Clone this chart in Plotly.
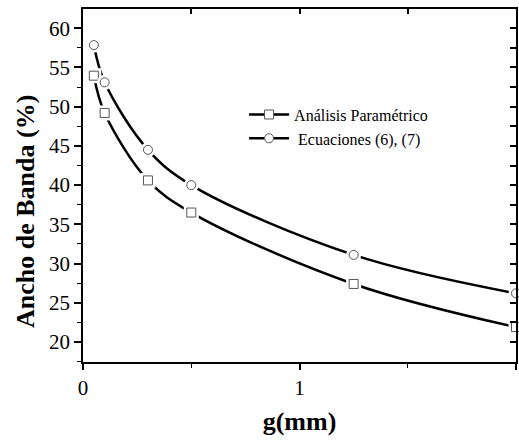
import plotly.graph_objects as go

g_mm = [0.05, 0.1, 0.3, 0.5, 1.25, 2.0]
analisis = [53.95, 49.2, 40.6, 36.5, 27.4, 21.9]
ecuaciones = [57.85, 53.1, 44.5, 40.0, 31.1, 26.2]
names = ["Análisis Paramétrico", " Ecuaciones (6), (7)"]
symbols = ["square", "circle"]

FONT = "Liberation Serif, Times New Roman, serif"
fig = go.Figure()

for ys, nm, sym in zip([analisis, ecuaciones], names, symbols):
    fig.add_trace(go.Scatter(
        x=g_mm, y=ys, name=nm, mode="lines+markers", cliponaxis=False,
        line=dict(color="black", width=2.5, shape="spline", smoothing=1.0),
        marker=dict(symbol=sym, size=9, color="white", line=dict(color="#555555", width=1)),
    ))
for ys, sym in zip([analisis, ecuaciones], symbols):
    fig.add_trace(go.Scatter(
        x=g_mm, y=ys, mode="markers", showlegend=False, hoverinfo="skip", cliponaxis=False,
        xaxis="x2", yaxis="y2",
        marker=dict(symbol=sym, size=15, color="white", line=dict(width=0)),
    ))
    fig.add_trace(go.Scatter(
        x=g_mm, y=ys, mode="markers", showlegend=False, hoverinfo="skip", cliponaxis=False,
        xaxis="x2", yaxis="y2",
        marker=dict(symbol=sym, size=9, color="white", line=dict(color="#555555", width=1)),
    ))

axis_common = dict(showgrid=False, zeroline=False, showline=True, linecolor="black",
                   linewidth=1.5, automargin=False)
YR = [17.45, 62.45]

fig.update_layout(
    width=519, height=440,
    margin=dict(l=83, r=3, t=9, b=78),
    paper_bgcolor="white", plot_bgcolor="white",
    font=dict(family=FONT, color="black", size=18),
    xaxis=dict(**axis_common, mirror=True, range=[0, 2], tickvals=[0, 1, 2], ticktext=["0", "1", "2"],
               ticks="outside", ticklen=6, tickwidth=1.5, tickcolor="black",
               minor=dict(tickvals=[0.5, 1.5], ticks="outside", ticklen=4, tickwidth=1.2, tickcolor="black"),
               tickfont=dict(size=21),
               title=dict(text="<b>g(mm)</b>", font=dict(size=26), standoff=13)),
    yaxis=dict(**axis_common, mirror=True, range=YR, tickvals=[20, 25, 30, 35, 40, 45, 50, 55, 60],
               ticks="outside", ticklen=7, tickwidth=1.5, tickcolor="black",
               minor=dict(tickvals=[17.5, 22.5, 27.5, 32.5, 37.5, 42.5, 47.5, 52.5, 57.5, 62.5],
                          ticks="outside", ticklen=4, tickwidth=1.2, tickcolor="black"),
               tickfont=dict(size=21)),
    xaxis2=dict(**axis_common, overlaying="x", anchor="y2", side="top", range=[0, 2],
                tickvals=[0.5, 1, 1.5], ticks="inside", ticklen=5, tickwidth=1.5, tickcolor="black",
                showticklabels=False),
    yaxis2=dict(**axis_common, overlaying="y", anchor="x2", side="right", range=YR,
                tickvals=[20, 22.5, 25, 27.5, 30, 32.5, 35, 37.5, 40, 42.5, 45, 47.5, 50, 52.5, 55, 57.5, 60],
                ticks="inside", ticklen=6, tickwidth=1.5, tickcolor="black",
                showticklabels=False),
    legend=dict(x=0.372, y=0.749, xanchor="left", yanchor="top", bgcolor="rgba(0,0,0,0)",
                font=dict(size=16), tracegroupgap=0, itemwidth=40),
    showlegend=True,
    annotations=[dict(text="<b>Ancho de Banda (%)</b>", textangle=-90, showarrow=False,
                      xref="paper", yref="paper", x=-0.1316, y=0.425,
                      xanchor="center", yanchor="middle", font=dict(size=26))],
)

fig.write_html("out.html", config={"displayModeBar": False},
               post_script="document.body.style.margin='0';document.body.style.overflow='hidden';")
